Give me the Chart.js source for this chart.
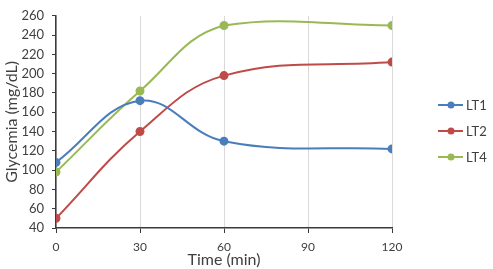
<!DOCTYPE html>
<html>
<head>
<meta charset="utf-8">
<script src="https://cdn.jsdelivr.net/npm/chart.js@4"></script>
<style>
  body { margin: 0; background: #fff; }
  #wrap { width: 493px; height: 269px; position: relative; }
</style>
</head>
<body>
<div id="wrap"><canvas id="glyChart"></canvas></div>
<script>
// data
const times = [0, 30, 60, 120];
const lt1 = [108, 172, 130, 122];
const lt2 = [50, 140, 198, 212];
const lt4 = [98, 182, 250, 250];
const seriesNames = ['LT1', 'LT2', 'LT4'];
const seriesColors = ['#4a7ebb', '#be4b48', '#98b954'];
const xTicks = [0, 30, 60, 90, 120];
const yMin = 40, yMax = 260, yStep = 20;

const fontFamily = 'Lato, "Open Sans", sans-serif';
const textColor = '#404040';
const axisColor = '#3a3a3a';

function toPoints(vals) {
    return times.map((t, i) => ({ x: t, y: vals[i] }));
}

const datasets = [lt1, lt2, lt4].map((vals, i) => ({
    label: seriesNames[i],
    data: toPoints(vals),
    borderColor: seriesColors[i],
    backgroundColor: seriesColors[i],
    borderWidth: 2,
    pointRadius: 3.5,
    pointHoverRadius: 3.5,
    tension: 0.4,
    fill: false
}));

// legend drawn on the right like the original
const sideLegend = {
    id: 'sideLegend',
    afterDraw(chart) {
        const ctx = chart.ctx;
        const rows = [105, 131, 157];
        ctx.save();
        chart.data.datasets.forEach((ds, i) => {
            const y = rows[i];
            ctx.strokeStyle = ds.borderColor;
            ctx.lineWidth = 2;
            ctx.beginPath();
            ctx.moveTo(438, y);
            ctx.lineTo(463, y);
            ctx.stroke();
            ctx.fillStyle = ds.borderColor;
            ctx.beginPath();
            ctx.arc(451, y, 3.5, 0, Math.PI * 2);
            ctx.fill();
            ctx.fillStyle = textColor;
            ctx.font = '13px ' + fontFamily;
            ctx.textBaseline = 'middle';
            ctx.textAlign = 'left';
            ctx.fillText(ds.label, 466, y + 1);
        });
        ctx.restore();
    }
};

new Chart(document.getElementById('glyChart'), {
    type: 'line',
    data: { datasets: datasets },
    options: {
        responsive: true,
        maintainAspectRatio: false,
        animation: false,
        layout: { padding: { top: 9, right: 101, left: 0, bottom: 0 } },
        plugins: {
            legend: { display: false },
            tooltip: { enabled: false }
        },
        scales: {
            x: {
                type: 'linear',
                min: 0,
                max: 120,
                afterBuildTicks: (scale) => { scale.ticks = xTicks.map(v => ({ value: v })); },
                afterFit: (scale) => { scale.height = 41; },
                ticks: {
                    color: textColor,
                    font: { family: fontFamily, size: 12 },
                    padding: 7,
                    maxRotation: 0
                },
                grid: {
                    color: '#d9d9d9',
                    lineWidth: 1,
                    tickLength: 5,
                    tickColor: axisColor
                },
                border: { color: axisColor, width: 1.5 },
                title: {
                    display: true,
                    text: 'Time (min)',
                    color: textColor,
                    font: { family: fontFamily, size: 16 },
                    padding: { top: 0, bottom: 0 }
                }
            },
            y: {
                min: yMin,
                max: yMax,
                afterFit: (scale) => { scale.width = 56; },
                ticks: {
                    stepSize: yStep,
                    color: textColor,
                    font: { family: fontFamily, size: 13 },
                    padding: 8
                },
                grid: {
                    drawOnChartArea: false,
                    tickLength: 4,
                    tickColor: axisColor
                },
                border: { color: axisColor, width: 1.5 },
                title: {
                    display: true,
                    text: 'Glycemia (mg/dL)',
                    color: textColor,
                    font: { family: fontFamily, size: 16 },
                    padding: { top: 2, bottom: 0 }
                }
            }
        }
    },
    plugins: [sideLegend]
});
</script>
</body>
</html>
